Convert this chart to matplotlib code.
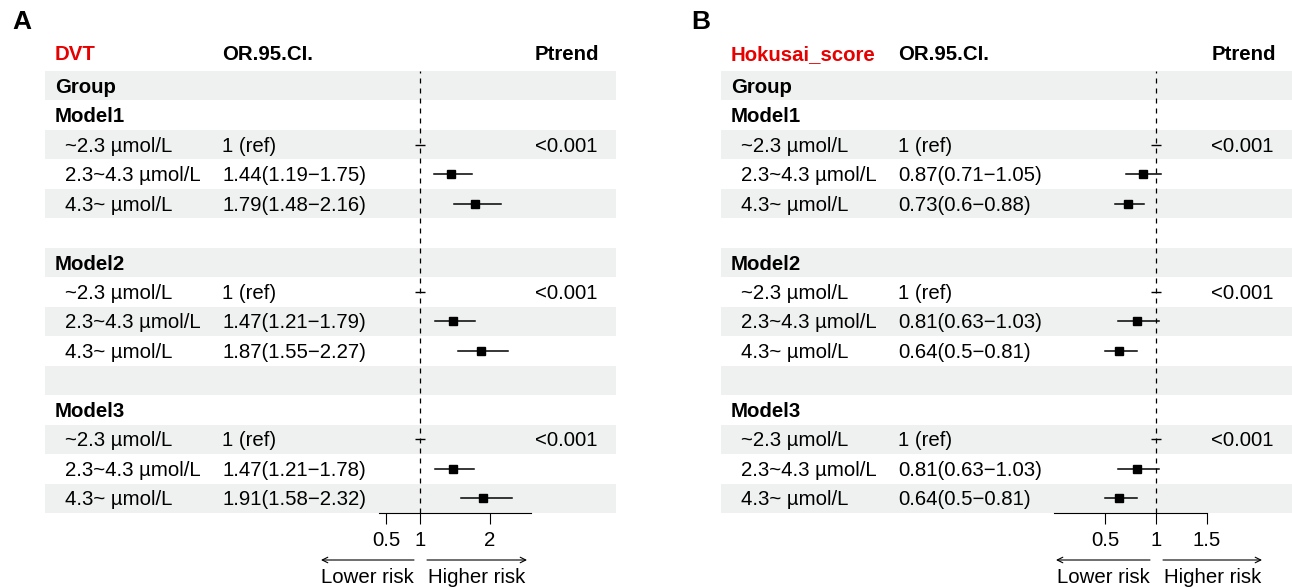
import matplotlib
matplotlib.use("Agg")
import matplotlib.pyplot as plt
from matplotlib.patches import Rectangle

plt.rcParams['font.family'] = ['Liberation Sans', 'DejaVu Sans']

# table rows (shared by both panels)
row_labels = ["Group", "Model1", "~2.3 \u00b5mol/L", "2.3~4.3 \u00b5mol/L", "4.3~ \u00b5mol/L", "",
              "Model2", "~2.3 \u00b5mol/L", "2.3~4.3 \u00b5mol/L", "4.3~ \u00b5mol/L", "",
              "Model3", "~2.3 \u00b5mol/L", "2.3~4.3 \u00b5mol/L", "4.3~ \u00b5mol/L"]
bold_rows = ["Group", "Model1", "Model2", "Model3"]
data_rows = [2, 3, 4, 7, 8, 9, 12, 13, 14]
ptrend_rows = [2, 7, 12]
ptrend_text = ["<0.001", "<0.001", "<0.001"]

# panel A: DVT
dvt_est = [1, 1.44, 1.79, 1, 1.47, 1.87, 1, 1.47, 1.91]
dvt_lo = [1, 1.19, 1.48, 1, 1.21, 1.55, 1, 1.21, 1.58]
dvt_hi = [1, 1.75, 2.16, 1, 1.79, 2.27, 1, 1.78, 2.32]
dvt_ticks = [0.5, 1, 2]

# panel B: Hokusai score
hok_est = [1, 0.87, 0.73, 1, 0.81, 0.64, 1, 0.81, 0.64]
hok_lo = [1, 0.71, 0.6, 1, 0.63, 0.5, 1, 0.63, 0.5]
hok_hi = [1, 1.05, 0.88, 1, 1.03, 0.81, 1, 1.03, 0.81]
hok_ticks = [0.5, 1, 1.5]

W, H = 1292, 587
FS = 14.7
ROW_TOP, ROW_BOT = 71, 513
RH = (ROW_BOT - ROW_TOP) / len(row_labels)
SHADE = '#eff1f0'

fig = plt.figure(figsize=(W / 100, H / 100), dpi=100)
bg = fig.add_axes([0, 0, 1, 1])
bg.set_xlim(0, W)
bg.set_ylim(H, 0)
bg.axis('off')


def or_text(e, l, h):
    if e == 1 and l == 1 and h == 1:
        return "1 (ref)"
    return f"{e:g}({l:g}\u2212{h:g})"


def panel(letter, title, est, lo, hi, ticks, xlim, px):
    # px: pixel layout of this panel
    x0, x1 = px['shade']
    bg.text(px['letter'], 22, letter, fontsize=19, fontweight='bold', ha='left', va='center')
    bg.text(px['lab'], 60, title, color='#e60000', fontsize=FS, fontweight='bold', ha='left', va='baseline')
    bg.text(px['orx'], 60, "OR.95.CI.", fontsize=FS, fontweight='bold', ha='left', va='baseline')
    bg.text(px['pr'], 60, "Ptrend", fontsize=FS, fontweight='bold', ha='right', va='baseline')

    for i, lab in enumerate(row_labels):
        top = ROW_TOP + i * RH
        if i % 2 == 0:
            bg.add_patch(Rectangle((x0, top), x1 - x0, RH, color=SHADE, lw=0, zorder=0))
        base = top + RH / 2 + 7
        if lab in bold_rows:
            bg.text(px['lab'], base, lab, fontsize=FS, fontweight='bold', va='baseline')
        elif lab:
            bg.text(px['lab'] + 10, base, lab, fontsize=FS, va='baseline')

    for r, e, l, h in zip(data_rows, est, lo, hi):
        base = ROW_TOP + r * RH + RH / 2 + 7
        bg.text(px['orx'], base, or_text(e, l, h), fontsize=FS, va='baseline')
    for r, t in zip(ptrend_rows, ptrend_text):
        base = ROW_TOP + r * RH + RH / 2 + 7
        bg.text(px['pr'] - 2, base, t, fontsize=FS, ha='right', va='baseline')

    # forest area
    ax_l = px['axis'][0] / W
    ax_w = (px['axis'][1] - px['axis'][0]) / W
    ax = fig.add_axes([ax_l, (H - ROW_BOT) / H, ax_w, (ROW_BOT - ROW_TOP) / H])
    ax.patch.set_alpha(0)
    ax.set_xlim(*xlim)
    ax.set_ylim(len(row_labels), 0)
    ax.axvline(1, color='black', lw=0.9, ls=(0, (4, 4)))
    for r, e, l, h in zip(data_rows, est, lo, hi):
        y = r + 0.5
        if l == h:
            ax.plot([e], [y], marker='_', ms=7, mew=1, color='black')
        else:
            ax.plot([l, h], [y, y], color='black', lw=1.1)
            ax.plot([e], [y], marker='s', ms=5.6, color='black')
    for s in ['top', 'left', 'right']:
        ax.spines[s].set_visible(False)
    ax.spines['bottom'].set_linewidth(0.8)
    ax.set_yticks([])
    ax.set_xticks(ticks)
    ax.set_xticklabels([f"{t:g}" for t in ticks])
    ax.tick_params(axis='x', length=8, width=0.8, pad=5, labelsize=FS)

    # risk arrows
    la, ra = px['arrows']
    bg.annotate("", xy=(la[0], 560), xytext=(la[1], 560),
                arrowprops=dict(arrowstyle='->', lw=0.8, color='black', shrinkA=0, shrinkB=0))
    bg.annotate("", xy=(ra[1], 560), xytext=(ra[0], 560),
                arrowprops=dict(arrowstyle='->', lw=0.8, color='black', shrinkA=0, shrinkB=0))
    bg.text((la[0] + la[1]) / 2, 583, "Lower risk", fontsize=FS, ha='center', va='baseline')
    bg.text((ra[0] + ra[1]) / 2, 583, "Higher risk", fontsize=FS, ha='center', va='baseline')


panel("A", "DVT", dvt_est, dvt_lo, dvt_hi, dvt_ticks, (0.4, 2.6),
      dict(letter=12, shade=(45, 616), lab=55, orx=222, pr=599,
           axis=(379, 531), arrows=((321, 414), (427, 527))))
panel("B", "Hokusai_score", hok_est, hok_lo, hok_hi, hok_ticks, (0.0, 1.5),
      dict(letter=691, shade=(721, 1292), lab=731, orx=898, pr=1276,
           axis=(1054, 1207), arrows=((1056, 1150), (1163, 1262))))

fig.savefig("out.png", dpi=100)
